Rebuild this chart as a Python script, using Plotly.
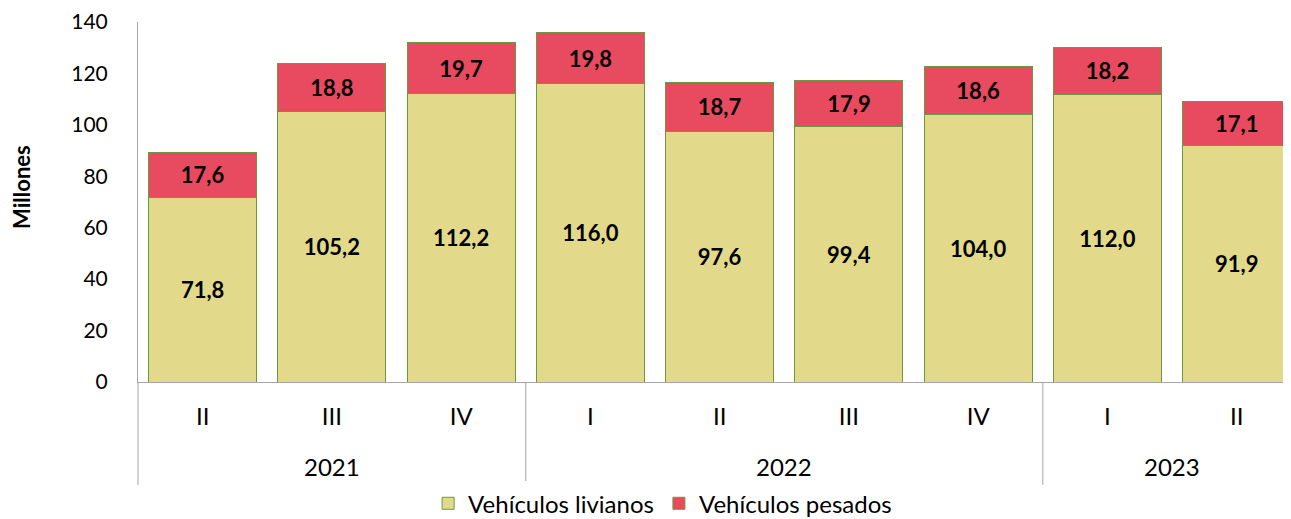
import plotly.graph_objects as go

years = ["2021", "2021", "2021", "2022", "2022", "2022", "2022", "2023", "2023"]
quarters = ["II", "III", "IV", "I", "II", "III", "IV", "I", "II"]
livianos = [71.8, 105.2, 112.2, 116.0, 97.6, 99.4, 104.0, 112.0, 91.9]
pesados = [17.6, 18.8, 19.7, 19.8, 18.7, 17.9, 18.6, 18.2, 17.1]

font = "Lato, Carlito, Calibri, sans-serif"
edge = dict(color="#6a9a3c", width=1)
xs = list(range(len(quarters)))
x0, x1 = -0.5, 8.42

fig = go.Figure()
for vals, name, col in [(livianos, "Vehículos livianos", "#e2da8a"),
                        (pesados, "Vehículos pesados", "#e84a5f")]:
    fig.add_trace(go.Bar(x=xs, y=vals, name=name,
                         marker=dict(color=col, line=edge),
                         texttemplate="%{y:.1f}", textposition="inside", insidetextanchor="middle",
                         textangle=0, textfont=dict(size=22, color="black", family=font, weight="bold")))

# year groups: labels and dividers
groups = []
for i, y in enumerate(years):
    if not groups or groups[-1][0] != y:
        groups.append([y, i, i])
    else:
        groups[-1][2] = i

def px_frac(v):
    return (v - x0) / (x1 - x0)

line = dict(color="#a6a6a6", width=1)
for y, a, b in groups:
    fig.add_annotation(x=(a + b) / 2, xref="x", y=-0.236, yref="paper", text=y,
                       showarrow=False, yanchor="middle", font=dict(size=24))
    fig.add_shape(type="line", xref="paper", yref="paper", x0=px_frac(a - 0.5), x1=px_frac(a - 0.5),
                  y0=0, y1=-0.286, line=line)
fig.add_shape(type="line", xref="paper", yref="paper", x0=px_frac(len(years) - 0.5),
              x1=px_frac(len(years) - 0.5), y0=0, y1=-0.286, line=line)

# y title
fig.add_annotation(x=-0.1006, xref="paper", y=0.542, yref="paper", text="<b>Millones</b>",
                   textangle=-90, showarrow=False, xanchor="center", yanchor="middle",
                   font=dict(size=22))

fig.update_layout(
    barmode="stack", bargap=0.165,
    width=1283, height=511,
    margin=dict(l=130, r=0, t=14, b=137),
    paper_bgcolor="white", plot_bgcolor="white",
    separators=",.",
    font=dict(family=font, size=24, color="black"),
    uniformtext=dict(mode="show", minsize=22),
    showlegend=True,
    legend=dict(orientation="h", x=0.455, xanchor="center", y=0.03, yanchor="middle",
                yref="container", font=dict(size=24), traceorder="normal", itemwidth=30),
)
fig.update_xaxes(range=[x0, x1], tickvals=xs, ticktext=quarters, showline=True,
                 linecolor="#a6a6a6", linewidth=1, showgrid=False, ticks="", zeroline=False,
                 ticklabelstandoff=13, tickfont=dict(size=24), automargin=False)
fig.update_yaxes(range=[0, 140], dtick=20, showline=True, linecolor="#a6a6a6", linewidth=1,
                 showgrid=False, zeroline=False, ticks="", ticklabelstandoff=25,
                 ticklabeloverflow="allow", tickfont=dict(size=21), automargin=False)

fig.write_html("out.html")
